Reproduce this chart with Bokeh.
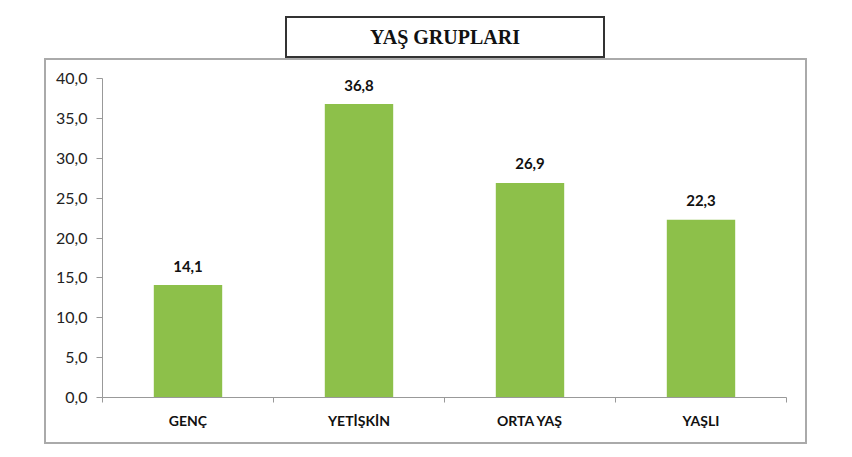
from bokeh.plotting import figure
from bokeh.models import Range1d, FixedTicker, CustomJSTickFormatter, ColumnDataSource, Div
from bokeh.layouts import column
from bokeh.core.properties import value
from bokeh.embed import file_html
from bokeh.resources import INLINE

title_text = "YAŞ GRUPLARI"
categories = ["GENÇ", "YETİŞKİN", "ORTA YAŞ", "YAŞLI"]
values = [14.1, 36.8, 26.9, 22.3]
y_ticks = [0, 5, 10, 15, 20, 25, 30, 35, 40]

p = figure(width=763, height=386, output_backend="svg", toolbar_location=None,
           x_range=Range1d(-0.5, len(categories) - 0.5), y_range=Range1d(0, 40),
           min_border_left=56, min_border_right=23, min_border_top=18, min_border_bottom=49,
           margin=(0, 0, 0, 44),
           styles={"border": "2px solid #aaaaaa", "box-sizing": "border-box"})
p.background_fill_color = "white"
p.border_fill_color = "white"
p.outline_line_color = None
p.grid.visible = False

xs = list(range(len(categories)))
labels = [f"{v:.1f}".replace(".", ",") for v in values]
src = ColumnDataSource(dict(x=xs, top=values, label=labels))

p.vbar(x="x", top="top", width=0.4, source=src, fill_color="#8DC04A", line_color=None)
p.text(x="x", y="top", text="label", source=src, text_align="center", text_baseline="alphabetic",
       y_offset=-19, text_font=value("Lato"), text_font_style="bold", text_font_size="15px",
       text_color="#111111")

xa = p.xaxis[0]
xa.ticker = FixedTicker(ticks=xs, minor_ticks=[x - 0.5 for x in xs] + [xs[-1] + 0.5])
xa.major_label_overrides = {x: c for x, c in zip(xs, categories)}
xa.major_tick_line_color = None
xa.minor_tick_in = 0
xa.minor_tick_out = 5
xa.minor_tick_line_color = "#999999"
xa.axis_line_color = "#999999"
xa.major_label_text_font = "Lato"
xa.major_label_text_font_style = "bold"
xa.major_label_text_font_size = "14px"
xa.major_label_text_color = "#111111"
xa.major_label_standoff = 8

ya = p.yaxis[0]
ya.ticker = FixedTicker(ticks=y_ticks)
ya.formatter = CustomJSTickFormatter(code="return tick.toFixed(1).replace('.', ',');")
ya.axis_line_color = "#999999"
ya.major_tick_line_color = "#999999"
ya.major_tick_in = 0
ya.major_tick_out = 6
ya.minor_tick_line_color = None
ya.major_label_text_font = "Lato"
ya.major_label_text_font_size = "16px"
ya.major_label_text_color = "#222222"
ya.major_label_standoff = 9

title_div = Div(
    text=('<div style="font-family:\'Liberation Serif\';font-weight:bold;font-size:20px;'
          'color:#111;text-align:center;line-height:38px;width:316px;">' + title_text + '</div>'),
    width=320, height=42, margin=(16, 0, 0, 285),
    styles={"border": "2px solid #333333", "box-sizing": "border-box", "background": "white"})

layout = column(title_div, p, spacing=0)
open("out.html", "w").write(file_html(layout, INLINE))
